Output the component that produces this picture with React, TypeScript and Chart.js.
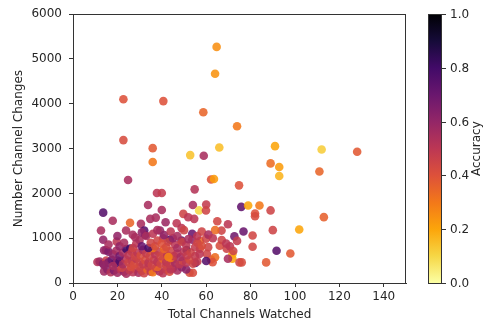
import React, { useEffect, useRef } from 'react';
import { Chart, registerables } from 'chart.js';

Chart.register(...registerables);

const watched = [
  64.7, 64, 22.7, 40.7, 58.7, 73.9, 22.7, 35.9, 35.9, 52.8,
  58.9, 65.9, 91, 112, 128, 89, 92.9, 92.9, 111, 24.8,
  62.2, 63.5, 74.8, 54.8, 37.8, 40, 33.8, 54, 60, 75.8,
  78.9, 84, 13.6, 56.8, 59.9, 40, 89, 82, 82, 113,
  17.9, 101.9, 90, 76.8, 80.9, 80.9, 91.7, 97.9, 87, 72.7,
  69.8, 65, 66.9, 64, 73.9, 71.8, 71.8, 69.8, 75, 76,
  25.7, 30.6,
  12.6, 13.6, 14.9, 19.7, 23.9, 26.9, 25.7, 32.1, 32.5, 34.8,
  37.3, 39.2, 41.7, 40.6, 43.7, 46.7, 48.9, 49.7, 51.9, 54.6,
  53.7, 53.7, 48.9, 51.2, 57.2, 59.9, 60.9, 57.2, 60.3, 62.2,
  64, 66.1, 69.2, 70.7, 72.2, 62.9, 60, 55.1, 52.5, 54,
  14, 15.5, 17, 18.5, 20, 21.5, 23, 24, 25.5, 27,
  28, 29.5, 31, 32, 33.5, 35, 36, 37.5, 39, 40.5,
  42, 43.5, 45, 47, 49, 51, 22, 26, 30, 34,
  38, 42, 44,
  11, 12, 13.5, 15, 16, 17.5, 19, 20, 21, 22.5,
  23.5, 25, 26.5, 27.5, 28.5, 30, 31.5, 32.5, 34, 35.5,
  36.5, 38, 39.5, 40.5, 42, 43.5, 45, 46, 48, 49.5,
  51, 52.5, 54, 56, 44, 14, 18,
  14, 16, 18, 19.5, 21, 22.5, 24, 25, 26.5, 28,
  29, 30.5, 31.5, 33, 34.5, 35.5, 37, 38.5, 39.5, 41,
  42.5, 44, 45.5, 47, 48.5, 50, 51.5, 53, 55, 57,
  36, 41, 43,
  16, 21, 23, 27, 28.5, 30, 31, 34, 35, 37,
  38, 40, 42, 43, 46, 47, 49, 51, 52, 55,
  56, 58, 45,
  20, 28, 31, 33, 36, 38, 41, 44, 47, 50,
  56, 58, 61, 63, 67, 69,
];

const changes = [
  5270, 4670, 4100, 4060, 3810, 3500, 3190, 3010, 2700, 2855,
  2840, 3025, 3055, 2980, 2930, 2670, 2590, 2390, 2490, 2300,
  2310, 2320, 2180, 2090, 2010, 2010, 1740, 1740, 1750, 1700,
  1730, 1730, 1570, 1620, 1620, 1630, 1620, 1550, 1490, 1470,
  1390, 1195, 1180, 1150, 1060, 810, 720, 660, 460, 1040,
  1310, 1380, 1170, 1180, 940, 640, 540, 540, 460, 460,
  1343, 1320,
  1173, 967, 730, 923, 1173, 1078, 768, 1173, 1070, 1432,
  1460, 1173, 1357, 1000, 967, 1335, 1225, 1543, 1468, 1432,
  1100, 967, 950, 738, 937, 990, 800, 768, 650, 525,
  575, 830, 768, 820, 715, 465, 490, 450, 228, 228,
  260, 300, 240, 280, 230, 310, 250, 210, 290, 240,
  320, 230, 270, 220, 300, 250, 240, 330, 260, 220,
  300, 250, 330, 280, 350, 300, 340, 360, 350, 370,
  360, 380, 300,
  470, 480, 430, 500, 460, 520, 440, 500, 480, 420,
  530, 460, 500, 420, 540, 470, 420, 510, 450, 400,
  520, 470, 430, 540, 470, 420, 520, 450, 420, 500,
  460, 520, 430, 480, 560, 400, 380,
  730, 700, 640, 720, 600, 680, 760, 620, 700, 590,
  680, 620, 740, 660, 600, 720, 640, 700, 600, 680,
  620, 720, 600, 660, 580, 700, 620, 680, 600, 650,
  780, 760, 580,
  860, 820, 900, 780, 880, 960, 820, 780, 900, 820,
  950, 880, 800, 920, 860, 780, 920, 840, 980, 800,
  900, 830, 1000,
  1050, 1020, 1130, 1050, 1100, 1180, 1070, 1150, 1050, 1180,
  1050, 1150, 1080, 1000, 960, 880,
];

const accuracy = [
  0.25, 0.24, 0.4, 0.4, 0.35, 0.3, 0.42, 0.38, 0.3, 0.14,
  0.55, 0.15, 0.2, 0.12, 0.38, 0.33, 0.22, 0.17, 0.35, 0.55,
  0.4, 0.22, 0.4, 0.52, 0.5, 0.48, 0.55, 0.55, 0.48, 0.72,
  0.2, 0.3, 0.75, 0.1, 0.45, 0.55, 0.45, 0.4, 0.42, 0.36,
  0.55, 0.2, 0.45, 0.7, 0.44, 0.44, 0.75, 0.38, 0.38, 0.68,
  0.5, 0.44, 0.45, 0.33, 0.48, 0.18, 0.2, 0.55, 0.45, 0.42,
  0.35, 0.55,
  0.55, 0.6, 0.55, 0.5, 0.55, 0.55, 0.8, 0.75, 0.7, 0.55,
  0.55, 0.6, 0.58, 0.55, 0.8, 0.5, 0.5, 0.45, 0.5, 0.5,
  0.7, 0.6, 0.75, 0.85, 0.33, 0.45, 0.45, 0.4, 0.45, 0.4,
  0.33, 0.42, 0.45, 0.5, 0.45, 0.4, 0.75, 0.75, 0.42, 0.42,
  0.57, 0.62, 0.52, 0.65, 0.57, 0.5, 0.6, 0.55, 0.48, 0.5,
  0.45, 0.55, 0.48, 0.45, 0.35, 0.5, 0.3, 0.45, 0.55, 0.5,
  0.48, 0.42, 0.5, 0.55, 0.6, 0.62, 0.45, 0.42, 0.45, 0.48,
  0.35, 0.45, 0.5,
  0.52, 0.57, 0.62, 0.47, 0.65, 0.7, 0.75, 0.6, 0.78, 0.55,
  0.5, 0.45, 0.48, 0.42, 0.5, 0.45, 0.48, 0.42, 0.5, 0.45,
  0.48, 0.5, 0.45, 0.35, 0.5, 0.48, 0.45, 0.55, 0.5, 0.45,
  0.5, 0.42, 0.45, 0.48, 0.3, 0.6, 0.55,
  0.6, 0.65, 0.6, 0.55, 0.68, 0.55, 0.8, 0.5, 0.48, 0.45,
  0.5, 0.42, 0.55, 0.48, 0.45, 0.38, 0.5, 0.48, 0.45, 0.42,
  0.5, 0.45, 0.48, 0.5, 0.55, 0.5, 0.48, 0.45, 0.48, 0.5,
  0.3, 0.35, 0.28,
  0.55, 0.6, 0.55, 0.45, 0.5, 0.55, 0.7, 0.78, 0.45, 0.42,
  0.45, 0.4, 0.42, 0.45, 0.5, 0.55, 0.45, 0.5, 0.55, 0.48,
  0.45, 0.42, 0.6,
  0.6, 0.55, 0.6, 0.55, 0.5, 0.55, 0.6, 0.5, 0.55, 0.45,
  0.5, 0.45, 0.55, 0.5, 0.45, 0.5,
];

const xTicks = [0, 20, 40, 60, 80, 100, 120, 140];
const yTicks = [0, 1000, 2000, 3000, 4000, 5000, 6000];
const cbTicks = [0, 0.2, 0.4, 0.6, 0.8, 1.0];

const xTitle = 'Total Channels Watched';
const yTitle = 'Number Channel Changes';
const cbTitle = 'Accuracy';

// inferno colormap stops (t = 0 .. 1)
const INFERNO = [
  [0, 0, 4], [22, 11, 57], [66, 10, 104], [106, 23, 110], [147, 38, 103],
  [188, 55, 84], [221, 81, 58], [243, 120, 25], [252, 165, 10], [246, 215, 70], [252, 255, 164],
];

function inferno(t: number): [number, number, number] {
  const v = Math.max(0, Math.min(1, t)) * 10;
  const i = Math.min(9, Math.floor(v));
  const f = v - i;
  const a = INFERNO[i], b = INFERNO[i + 1];
  return [0, 1, 2].map((k) => Math.round(a[k] + (b[k] - a[k]) * f)) as [number, number, number];
}

// reversed colormap: accuracy 1 -> black, 0 -> pale yellow
function accColor(acc: number, alpha = 1): string {
  const [r, g, b] = inferno(1 - acc);
  return `rgba(${r},${g},${b},${alpha})`;
}

const FONT = 'DejaVu Sans';
const FS = 12;
const TEXT = '#262626';
const SPINE = '#333333';

const frameAndColorbar = {
  id: 'frameAndColorbar',
  afterDatasetsDraw(chart: any) {
    const { ctx, chartArea } = chart;
    const { left, right, top, bottom } = chartArea;
    ctx.save();
    // frame
    ctx.strokeStyle = SPINE;
    ctx.lineWidth = 1;
    ctx.strokeRect(Math.round(left) + 0.5, Math.round(top) + 0.5, Math.round(right - left) - 1, Math.round(bottom - top));
    // colorbar
    const cx = right + 22;
    const cw = 14;
    const grad = ctx.createLinearGradient(0, top, 0, bottom);
    for (let i = 0; i <= 10; i++) {
      const [r, g, b] = INFERNO[i];
      grad.addColorStop(i / 10, `rgb(${r},${g},${b})`);
    }
    ctx.fillStyle = grad;
    ctx.fillRect(cx, top, cw, bottom - top);
    ctx.strokeStyle = SPINE;
    ctx.strokeRect(Math.round(cx) + 0.5, Math.round(top) + 0.5, cw - 1, Math.round(bottom - top));
    ctx.font = `${FS}px "${FONT}"`;
    ctx.fillStyle = TEXT;
    ctx.textAlign = 'left';
    ctx.textBaseline = 'middle';
    for (const t of cbTicks) {
      const y = Math.round(bottom - t * (bottom - top)) + 0.5;
      ctx.beginPath();
      ctx.moveTo(cx + cw, y);
      ctx.lineTo(cx + cw + 4, y);
      ctx.stroke();
      ctx.fillText(t.toFixed(1), cx + cw + 8, y);
    }
    ctx.translate(477, (top + bottom) / 2);
    ctx.rotate(-Math.PI / 2);
    ctx.textAlign = 'center';
    ctx.textBaseline = 'middle';
    ctx.fillText(cbTitle, 0, 0);
    ctx.restore();
  },
};

export default function App() {
  const ref = useRef<HTMLCanvasElement | null>(null);

  useEffect(() => {
    if (!ref.current) return;
    const points = watched.map((x, i) => ({ x, y: changes[i] }));
    const colors = accuracy.map((a) => accColor(a, 0.88));
    const chart = new Chart(ref.current, {
      type: 'scatter',
      data: {
        datasets: [
          {
            data: points,
            backgroundColor: colors,
            borderWidth: 0,
            pointRadius: 4.3,
            pointHoverRadius: 4.3,
          },
        ],
      },
      options: {
        animation: false,
        responsive: false,
        devicePixelRatio: 1,
        layout: { padding: { top: 12, right: 81, left: 0, bottom: 0 } },
        plugins: { legend: { display: false }, tooltip: { enabled: false } },
        scales: {
          x: {
            type: 'linear',
            min: 0,
            max: 150,
            afterFit: (s: any) => { s.height = 41; },
            afterBuildTicks: (s: any) => { s.ticks = xTicks.map((v) => ({ value: v })); },
            grid: { drawOnChartArea: false, drawTicks: true, tickLength: 4, color: SPINE },
            border: { display: true, color: SPINE, width: 1 },
            ticks: { font: { family: FONT, size: FS }, color: TEXT, padding: 3, maxRotation: 0 },
            title: { display: true, text: xTitle, font: { family: FONT, size: FS }, color: TEXT, padding: { top: 0, bottom: 2 } },
          },
          y: {
            type: 'linear',
            min: 0,
            max: 6000,
            afterFit: (s: any) => { s.width = 73; },
            afterBuildTicks: (s: any) => { s.ticks = yTicks.map((v) => ({ value: v })); },
            grid: { drawOnChartArea: false, drawTicks: true, tickLength: 4, color: SPINE },
            border: { display: true, color: SPINE, width: 1 },
            ticks: { font: { family: FONT, size: FS }, color: TEXT, padding: 7, callback: (v: any) => String(v) },
            title: { display: true, text: yTitle, font: { family: FONT, size: FS }, color: TEXT, padding: { top: 12, bottom: 0 } },
          },
        },
      },
      plugins: [frameAndColorbar],
    });
    return () => chart.destroy();
  }, []);

  return (
    <div style={{ position: 'fixed', left: 0, top: 0, width: 487, height: 324, background: '#fff' }}>
      <canvas ref={ref} width={487} height={324} style={{ display: 'block', width: 487, height: 324 }} />
    </div>
  );
}
